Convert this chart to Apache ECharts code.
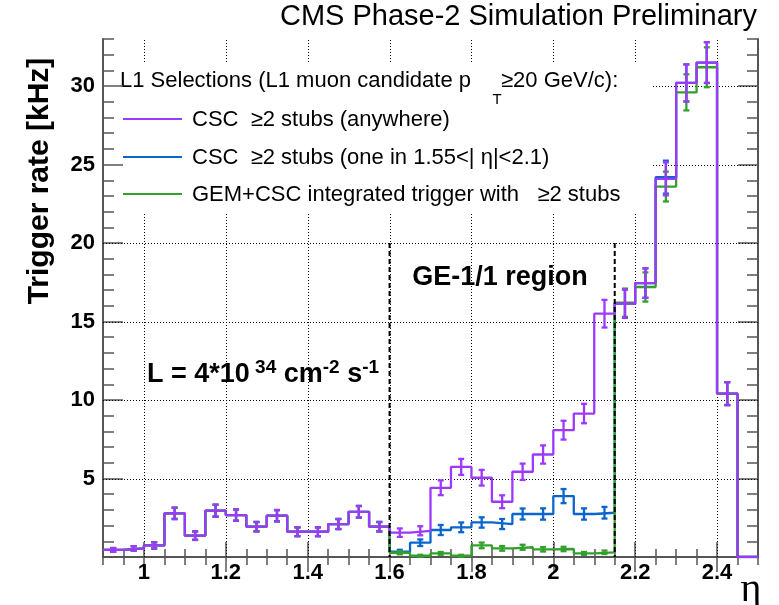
<!DOCTYPE html>
<html><head><meta charset="utf-8">
<script src="https://cdn.jsdelivr.net/npm/echarts@6/dist/echarts.min.js"></script>
<style>html,body{margin:0;padding:0;background:#fff}#c{width:779px;height:605px}</style>
</head><body><div id="c"></div>
<script>
// ---------------- data ----------------
const etaEdges = [0.9,0.95,1.0,1.05,1.1,1.15,1.2,1.25,1.3,1.35,1.4,1.45,1.5,1.55,1.6,1.65,1.7,1.75,1.8,1.85,1.9,1.95,2.0,2.05,2.1,2.15,2.2,2.25,2.3,2.35,2.4,2.45,2.5];
// CSC >=2 stubs (anywhere)
const rateAny = [0.45,0.55,0.74,2.78,1.36,2.95,2.67,1.93,2.63,1.61,1.61,2.1,2.88,1.93,1.55,1.67,4.41,5.74,5.05,3.52,5.43,6.53,8.08,9.14,15.5,16.14,17.45,24.09,30.2,31.5,10.41,0];
const errAny  = [0.12,0.14,0.2,0.36,0.27,0.38,0.36,0.3,0.36,0.28,0.28,0.32,0.37,0.3,0.27,0.29,0.47,0.51,0.5,0.41,0.52,0.58,0.6,0.62,0.88,0.9,0.94,1.05,1.18,1.3,0.73,0];
// CSC >=2 stubs (one in 1.55<|eta|<2.1)
const rateOne = [0.45,0.55,0.74,2.78,1.36,2.95,2.67,1.93,2.63,1.61,1.61,2.1,2.88,1.93,0.34,0.91,1.72,1.89,2.2,2.1,2.74,2.74,3.88,2.74,2.82,16.14,17.45,24.2,30.2,31.5,10.41,0];
const errOne  = [0.12,0.14,0.2,0.36,0.27,0.38,0.36,0.3,0.36,0.28,0.28,0.32,0.37,0.3,0.12,0.21,0.32,0.31,0.33,0.32,0.35,0.36,0.45,0.36,0.37,0.9,0.94,1.05,1.18,1.3,0.73,0];
// GEM+CSC integrated trigger with >=2 stubs
const rateGem = [0.45,0.55,0.74,2.78,1.36,2.95,2.67,1.93,2.63,1.61,1.61,2.1,2.88,1.93,0.27,0.08,0.23,0.08,0.74,0.55,0.62,0.49,0.51,0.23,0.3,16.2,17.2,23.6,29.6,31.2,10.41,0];
const errGem  = [0.12,0.14,0.2,0.36,0.27,0.38,0.36,0.3,0.36,0.28,0.28,0.32,0.37,0.3,0.1,0.06,0.09,0.06,0.18,0.15,0.16,0.14,0.14,0.09,0.11,0.9,0.93,0.95,1.15,1.27,0.73,0];

const xTicks = [1.0,1.2,1.4,1.6,1.8,2.0,2.2,2.4];
const yTicks = [5,10,15,20,25,30];
const regionEdges = [1.6, 2.15];
const regionTop = 20;

const seriesNames = ['CSC  \u22652 stubs (anywhere)', 'CSC  \u22652 stubs (one in 1.55<| \u03b7|<2.1)', 'GEM+CSC integrated trigger with   \u22652 stubs'];

// ---------------- style / layout ----------------
const FONT = '"Liberation Sans", Arial, Helvetica, sans-serif';
const C_ANY = '#9d38fd', C_ONE = '#0a66cc', C_GEM = '#33a02c';
const AX = '#555';
const LEG = {x0: 103, x1: 653, y0: 62, y1: 213};
const LW = 2.3;

const chart = echarts.init(document.getElementById('c'), null, {renderer: 'canvas'});

function hist(vals, color, z) {
  return {type: 'line', step: 'end', xAxisIndex: 0, yAxisIndex: 0,
    data: etaEdges.map((x, i) => [x, vals[Math.min(i, vals.length - 1)]]),
    symbol: 'none', showSymbol: false, lineStyle: {color: color, width: LW}, z: z, silent: true, animation: false};
}
function errBars(vals, errs, color, z) {
  return {type: 'custom', xAxisIndex: 0, yAxisIndex: 0, z: z, silent: true,
    data: vals.map((v, i) => [(etaEdges[i] + etaEdges[i + 1]) / 2, v, errs[i]]),
    renderItem: function (p, api) {
      const c = api.value(0), v = api.value(1), e = api.value(2);
      if (!(e > 0)) return null;
      const t = api.coord([c, v + e]), b = api.coord([c, Math.max(0, v - e)]);
      const x = t[0], h = 3;
      const st = {stroke: color, lineWidth: LW};
      return {type: 'group', children: [
        {type: 'line', shape: {x1: x, y1: t[1], x2: x, y2: b[1]}, style: st},
        {type: 'line', shape: {x1: x - h, y1: t[1], x2: x + h, y2: t[1]}, style: st},
        {type: 'line', shape: {x1: x - h, y1: b[1], x2: x + h, y2: b[1]}, style: st}
      ]};
    }};
}

const gridSeries = {type: 'custom', xAxisIndex: 0, yAxisIndex: 0, z: 1, silent: true, data: [[0.9, 0]],
  renderItem: function (p, api) {
    const ch = [];
    const st = {stroke: '#000', lineWidth: 1, lineDash: [1, 2]};
    const yb = api.coord([0.9, 0])[1], yt = api.coord([0.9, 33])[1];
    const xl = api.coord([0.9, 0])[0], xr = api.coord([2.5, 0])[0];
    xTicks.forEach(function (x) {
      const px = Math.round(api.coord([x, 0])[0]) + 0.5;
      if (px < LEG.x1) {
        ch.push({type: 'line', shape: {x1: px, y1: yb, x2: px, y2: LEG.y1}, style: st});
        ch.push({type: 'line', shape: {x1: px, y1: LEG.y0, x2: px, y2: yt}, style: st});
      } else ch.push({type: 'line', shape: {x1: px, y1: yb, x2: px, y2: yt}, style: st});
    });
    yTicks.forEach(function (y) {
      const py = Math.round(api.coord([0.9, y])[1]) + 0.5;
      const x0 = (py > LEG.y0 && py < LEG.y1) ? LEG.x1 : xl;
      ch.push({type: 'line', shape: {x1: x0, y1: py, x2: xr, y2: py}, style: st});
    });
    return {type: 'group', children: ch};
  }};

const regionSeries = {type: 'custom', xAxisIndex: 0, yAxisIndex: 0, z: 10, silent: true,
  data: regionEdges.map(x => [x, regionTop]),
  renderItem: function (p, api) {
    const t = api.coord([api.value(0), api.value(1)]), b = api.coord([api.value(0), 0]);
    return {type: 'line', shape: {x1: t[0], y1: t[1], x2: b[0], y2: b[1]}, style: {stroke: '#000', lineWidth: 2, lineDash: [5, 3]}};
  }};

const axLine = {show: true, lineStyle: {color: AX, width: 2}};
const xBase = {type: 'value', gridIndex: 0, min: 0.9, max: 2.5, splitLine: {show: false}};
const yBase = {type: 'value', gridIndex: 0, min: 0, max: 33, splitLine: {show: false}};

const option = {
  animation: false,
  backgroundColor: '#fff',
  grid: {left: 103, right: 21, top: 39, bottom: 48, containLabel: false},
  xAxis: [
    Object.assign({}, xBase, {position: 'bottom', axisLine: axLine,
      axisTick: {inside: true, length: 15, customValues: xTicks, lineStyle: {color: AX, width: 1.5}},
      axisLabel: {customValues: xTicks, fontFamily: FONT, fontSize: 22, fontWeight: 'bold', color: '#000', margin: 5}}),
    Object.assign({}, xBase, {position: 'bottom', interval: 0.05, axisLine: {show: false},
      axisTick: {inside: true, length: 8, lineStyle: {color: AX, width: 1.5}}, axisLabel: {show: false}}),
    Object.assign({}, xBase, {position: 'top', axisLine: axLine,
      axisTick: {inside: true, length: 15, customValues: xTicks, lineStyle: {color: AX, width: 1.5}},
      axisLabel: {show: false}}),
    Object.assign({}, xBase, {position: 'top', interval: 0.05, axisLine: {show: false},
      axisTick: {inside: true, length: 8, lineStyle: {color: AX, width: 1.5}}, axisLabel: {show: false}})
  ],
  yAxis: [
    Object.assign({}, yBase, {position: 'left', axisLine: axLine,
      axisTick: {inside: true, length: 20, customValues: yTicks, lineStyle: {color: AX, width: 1.5}},
      axisLabel: {customValues: yTicks, fontFamily: FONT, fontSize: 22, fontWeight: 'bold', color: '#000', margin: 8}}),
    Object.assign({}, yBase, {position: 'left', interval: 1, axisLine: {show: false},
      axisTick: {inside: true, length: 11, lineStyle: {color: AX, width: 1.5}}, axisLabel: {show: false}}),
    Object.assign({}, yBase, {position: 'right', axisLine: axLine,
      axisTick: {inside: true, length: 20, customValues: yTicks, lineStyle: {color: AX, width: 1.5}},
      axisLabel: {show: false}}),
    Object.assign({}, yBase, {position: 'right', interval: 1, axisLine: {show: false},
      axisTick: {inside: true, length: 11, lineStyle: {color: AX, width: 1.5}}, axisLabel: {show: false}})
  ],
  series: [
    gridSeries,
    hist(rateOne, C_ONE, 3), errBars(rateOne, errOne, C_ONE, 3),
    hist(rateGem, C_GEM, 4), errBars(rateGem, errGem, C_GEM, 4),
    hist(rateAny, C_ANY, 5), errBars(rateAny, errAny, C_ANY, 5),
    regionSeries
  ],
  graphic: [
    {type: 'text', x: 757, y: 17, style: {text: 'CMS Phase-2 Simulation Preliminary', font: '29px ' + FONT, fill: '#000', align: 'right', verticalAlign: 'middle'}},
    {type: 'text', x: 40, y: 181, rotation: Math.PI / 2, style: {text: 'Trigger rate [kHz]', font: 'bold 30px ' + FONT, fill: '#000', align: 'center', verticalAlign: 'middle'}},
    {type: 'text', x: 751, y: 590, style: {text: '\u03b7', font: '40px "Liberation Serif", "DejaVu Serif", serif', fill: '#000', align: 'center', verticalAlign: 'middle'}},
    {type: 'text', x: 500, y: 278, style: {text: 'GE-1/1 region', font: 'bold 27px ' + FONT, fill: '#000', align: 'center', verticalAlign: 'middle'}},
    {type: 'text', x: 147, y: 373, style: {text: '{b|L = 4*10}{s| 34}{b| cm}{s|-2}{b| s}{s|-1}', fill: '#000', align: 'left', verticalAlign: 'middle',
      rich: {b: {fontFamily: FONT, fontSize: 27, fontWeight: 'bold', lineHeight: 30, verticalAlign: 'bottom'},
             s: {fontFamily: FONT, fontSize: 19, fontWeight: 'bold', lineHeight: 19, verticalAlign: 'top'}}}},
    {type: 'text', x: 120, y: 81, style: {text: '{a|L1 Selections (L1 muon candidate p}{g|}{a|\u226520 GeV/c):}', fill: '#000', align: 'left', verticalAlign: 'middle',
      rich: {a: {fontFamily: FONT, fontSize: 22}, g: {width: 30}}}},
    {type: 'text', x: 497, y: 100, style: {text: 'T', font: '15px ' + FONT, fill: '#000', align: 'center', verticalAlign: 'middle'}},
    {type: 'line', shape: {x1: 123, y1: 119, x2: 182, y2: 119}, style: {stroke: C_ANY, lineWidth: 2}},
    {type: 'line', shape: {x1: 123, y1: 157, x2: 182, y2: 157}, style: {stroke: C_ONE, lineWidth: 2}},
    {type: 'line', shape: {x1: 123, y1: 194, x2: 182, y2: 194}, style: {stroke: C_GEM, lineWidth: 2}},
    {type: 'text', x: 192, y: 120, style: {text: seriesNames[0], font: '22px ' + FONT, fill: '#000', align: 'left', verticalAlign: 'middle'}},
    {type: 'text', x: 192, y: 158, style: {text: seriesNames[1], font: '22px ' + FONT, fill: '#000', align: 'left', verticalAlign: 'middle'}},
    {type: 'text', x: 192, y: 195, style: {text: seriesNames[2], font: '22px ' + FONT, fill: '#000', align: 'left', verticalAlign: 'middle'}}
  ]
};
chart.setOption(option);
</script></body></html>
